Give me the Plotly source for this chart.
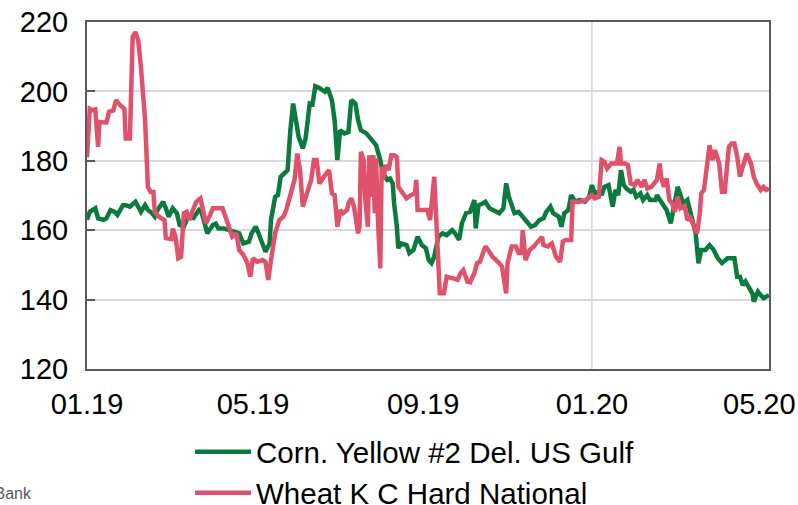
import pandas as pd
import plotly.graph_objects as go

# ---- data (days since 2019-01-01, price) ----
start = "2019-01-01"

wheat_day = [0, 2, 4, 6, 8, 9, 14, 16, 19, 21,
             24, 27, 28, 31, 33, 35, 37, 39, 42, 44,
             46, 48, 49, 52, 56, 57, 61, 62, 64, 66,
             68, 70, 72, 74, 76, 79, 82, 84, 86, 89,
             91, 98, 100, 102, 105, 108, 110, 113, 116, 118,
             120, 123, 127, 129, 131, 133, 136, 139, 142, 144,
             146, 148, 150, 152, 154, 156, 158, 162, 164, 166,
             168, 170, 173, 175, 177, 179, 181, 183, 185, 188,
             189, 191, 193, 196, 197, 198, 200, 201, 203, 204,
             205, 207, 208, 209, 210, 212, 213, 214, 216, 218,
             220, 222, 224, 225, 228, 231, 234, 237, 238, 239,
             246, 248, 251, 255, 258, 260, 264, 268, 270,
             272, 275, 277, 280, 282, 284, 288, 290, 293, 297,
             300, 303, 304, 307, 310, 312, 314, 315, 317, 320,
             323, 327, 329, 330, 333, 336, 339, 342, 344, 346,
             350, 351, 356, 361, 365, 367, 370, 372, 374, 376,
             379, 383, 385, 386, 389, 391, 393, 396, 398, 401,
             403, 405, 408, 410, 412, 414, 415, 417, 419, 421,
             423, 425, 427, 429, 432, 434, 436, 439, 441, 443,
             444, 446, 448, 450, 452, 454, 457, 459, 461, 463,
             464, 466, 468, 470, 472, 474, 477, 480, 482, 484,
             487, 489, 491, 493]
wheat_price = [181, 195, 194.6, 194.8, 184, 191.2, 191, 194.1, 194.5, 197.5,
               196, 195, 186.4, 186.4, 215.7, 217.1, 214.7, 207, 191.7, 172.5,
               171, 171, 165.3, 163.9, 162.9, 157.7, 157.4, 160.5, 158.1, 151.9,
               152.3, 164.9, 165.3, 162.9, 165.3, 168.2, 169.2, 165.8, 162, 164.4,
               166.3, 166.3, 163.9, 162.4, 158.1, 159.1, 154.3, 152.9, 150.5, 146.6,
               151.9, 150.9, 151.4, 150.9, 145.7, 151.4, 159.1, 162.9, 163.9, 165.8,
               168.7, 172.5, 174.5, 182.1, 177.3, 166.8, 169.6, 174.5, 180.2, 180.2,
               173.5, 174.9, 176.4, 177.3, 170.6, 170.1, 161, 165.8, 164.9, 165.8,
               167.7, 169.2, 166.8, 159.1, 161, 182.6, 180.2, 169.6, 161, 181.6,
               169.6, 181.6, 164.9, 180.7, 165.8, 149, 178.3, 174.5, 178.8, 177.3,
               181.6, 181.6, 181.1, 172.5, 170.6, 169.2, 170.1, 170.6, 174.5, 165.8,
               165.8, 162.9, 175.4, 141.8, 141.8, 146.6, 146.2, 145.7, 147.6,
               148.5, 145.2, 145, 147.6, 150.5, 150.9, 155.3, 154.3, 152.4, 150.9,
               149.5, 141.8, 150.5, 155.3, 155.3, 153.4, 153.4, 160, 151.4, 154.3,
               155.3, 157.2, 158, 155.7, 155.3, 156.2, 152.4, 150.9, 156.7, 157.2,
               157.2, 168.2, 168.2, 168.7, 170.1, 169.2, 169.6, 180.2, 179.7, 177.8,
               179.2, 179.2, 184, 179.2, 179.2, 178.8, 173.5, 173, 174.5, 172.5,
               174.5, 172, 172.5, 173.5, 174.5, 179.2, 175.4, 172.5, 174.9, 168.7,
               167.7, 165.3, 169.6, 166.3, 167, 162.9, 163.6, 161, 159.1, 164.9,
               170.6, 171.6, 179.2, 184.5, 180.2, 183.1, 179.2, 171.1, 171.1, 178.3,
               184, 185, 185, 181.2, 175.4, 178.3, 182.1, 179.2, 175.4, 173.5,
               171.6, 172.5, 171.6, 172]

corn_day = [0, 2, 6, 8, 12, 14, 17, 20, 22, 26,
            28, 31, 35, 37, 39, 42, 44, 47, 49, 51,
            55, 57, 59, 62, 65, 67, 70, 73, 77, 81,
            83, 87, 91, 93, 95, 99, 103, 106, 110, 113,
            117, 119, 122, 124, 127, 129, 132, 133, 136, 138,
            140, 143, 145, 147, 149, 151, 153, 156, 158, 161,
            163, 165, 168, 172, 174, 177, 179, 181, 183, 186,
            189, 191, 194, 196, 198, 202, 204, 207, 209, 212,
            214, 217, 219, 221, 222, 224, 225, 227, 231, 233,
            236, 239, 242, 245, 247, 249, 251, 254, 257, 260,
            264, 266, 269, 271, 274, 277, 280, 281, 283, 286,
            288, 291, 294, 298, 301, 303, 305, 307, 309, 312,
            315, 318, 321, 324, 327, 330, 332, 335, 337, 341,
            343, 345, 348, 350, 353, 356, 360, 363, 365, 367,
            370, 372, 374, 377, 378, 380, 382, 384, 386, 388,
            390, 393, 395, 397, 400, 402, 405, 407, 411, 412,
            415, 417, 419, 422, 424, 427, 429, 431, 434, 436,
            438, 440, 442, 444, 447, 450, 453, 456, 459, 463,
            468, 470, 472, 474, 476, 479, 481, 482, 485, 487,
            489, 493]
corn_price = [163, 165.3, 166.3, 163.4, 163, 163.4, 165.8, 165.3, 164.4, 167.2,
              167.2, 166.8, 168.2, 166.8, 165.3, 167.2, 165.8, 164.9, 163.9, 165.8,
              168.2, 166.3, 163.9, 166.3, 164.9, 161.5, 161, 163.9, 163.5, 165.8,
              165, 159.1, 161.5, 161.9, 160.5, 160.5, 160, 159.6, 159.1, 156.2,
              156.7, 159.1, 161, 159.1, 155.3, 153.8, 156.2, 162.9, 169.6, 170.1,
              175.4, 176.4, 177.3, 188.8, 196.5, 191.7, 186.9, 183.6, 186.4, 196.5,
              196.3, 201.5, 201, 199.9, 201, 197.5, 191.7, 180.2, 188.8, 187.9,
              188.3, 197.5, 196.5, 191.7, 188.8, 187.9, 186.9, 185.5, 184.5, 180.2,
              176.4, 174.5, 174.9, 173.5, 167.7, 161, 154.8, 156.2, 155.7, 153.4,
              154.3, 158.1, 155.7, 154.8, 151.4, 150.5, 152.4, 158.1, 159.1, 158.6,
              160, 159.1, 157.2, 162, 164.9, 165.3, 168.7, 160.5, 167.2, 167.7,
              168.2, 166.3, 165.8, 164.9, 166.3, 173.5, 169.6, 167.2, 164.9, 165.3,
              163.9, 162.4, 161, 161.5, 162.9, 163.4, 165.3, 166.8, 164.9, 163.9,
              161, 164.9, 165.8, 170.1, 168.2, 168.7, 168.2, 169.6, 173, 170.6,
              171.1, 170.1, 172.5, 173, 171.1, 166.8, 171.6, 170.1, 177.3, 173,
              172, 171.1, 171.6, 169.6, 170.6, 168.7, 170.1, 168.7, 168.7, 170.1,
              168.2, 167.2, 165.8, 162, 165.8, 172.5, 170.1, 167.7, 168.7, 165.8,
              162.9, 159.1, 150.5, 154.3, 154.3, 155.7, 154.3, 151.9, 150.5, 151.9,
              151.9, 146.6, 146.6, 144.2, 145.2, 143.3, 141.8, 139.4, 142.3, 141.3,
              140.4, 141.3]

tick_dates = ["2019-01-01", "2019-05-01", "2019-09-01", "2020-01-01", "2020-05-01"]
tick_labels = ["01.19", "05.19", "09.19", "01.20", "05.20"]
y_ticks = [120, 140, 160, 180, 200, 220]
series_names = ["Corn. Yellow #2 Del. US Gulf", "Wheat K C Hard National"]
source_text = "Source: World Bank"

assert len(wheat_day) == len(wheat_price)
assert len(corn_day) == len(corn_price)

t0 = pd.Timestamp(start)
wheat_x = t0 + pd.to_timedelta(wheat_day, unit="D")
corn_x = t0 + pd.to_timedelta(corn_day, unit="D")

FONT = "Liberation Sans Narrow, Arial Narrow, Liberation Sans, Arial, sans-serif"
FS = 29
GREEN = "#0B7A3E"
RED = "#E0516B"
AXIS = "#595959"

W, H = 798, 505
L, R, T, B = 87, 29, 22, 136
PW, PH = W - L - R, H - T - B


def px_x(page_x):
    return (page_x - L) / PW


def px_y(page_y):
    return (T + PH - page_y) / PH


fig = go.Figure()
fig.add_trace(go.Scatter(x=corn_x, y=corn_price, mode="lines", name=series_names[0],
                         line=dict(color=GREEN, width=4.5), legend="legend"))
fig.add_trace(go.Scatter(x=wheat_x, y=wheat_price, mode="lines", name=series_names[1],
                         line=dict(color=RED, width=4.5), legend="legend2"))

fig.add_shape(type="line", xref="x", yref="paper", x0="2020-01-01", x1="2020-01-01",
              y0=0, y1=1, line=dict(color="#BFBFBF", width=1), layer="below")

fig.add_annotation(text=source_text, xref="paper", yref="paper",
                   x=px_x(34), y=px_y(494), xanchor="right", yanchor="middle",
                   showarrow=False, font=dict(family=FONT, size=16, color="#595959"))

legend_common = dict(orientation="v", xanchor="left", yanchor="middle",
                     bgcolor="rgba(0,0,0,0)", font=dict(family=FONT, size=29.5, color="#000"),
                     itemwidth=56)

fig.update_layout(
    width=W, height=H, autosize=False,
    margin=dict(l=L, r=R, t=T, b=B, autoexpand=False),
    paper_bgcolor="white", plot_bgcolor="white",
    font=dict(family=FONT, size=FS, color="#000"),
    showlegend=True,
    legend=dict(x=px_x(190), y=px_y(452), **legend_common),
    legend2=dict(x=px_x(190), y=px_y(493), **legend_common),
    xaxis=dict(type="date", range=["2019-01-01", "2020-05-08"],
               tickvals=tick_dates, ticktext=tick_labels,
               showgrid=False, zeroline=False,
               showline=True, linecolor=AXIS, linewidth=2, mirror=True,
               ticks="", ticklabelstandoff=8, ticklabeloverflow="allow",
               tickfont=dict(family=FONT, size=FS, color="#000")),
    yaxis=dict(range=[120, 220], tickvals=y_ticks,
               showgrid=True, gridcolor="#D9D9D9", gridwidth=1.5, zeroline=False,
               showline=True, linecolor=AXIS, linewidth=2, mirror=True,
               ticks="inside", ticklen=8, tickwidth=2, tickcolor=AXIS,
               ticklabelstandoff=11, ticklabeloverflow="allow",
               tickfont=dict(family=FONT, size=FS, color="#000")),
)

# remove the default page margin so the 798x505 figure fills the window exactly
fig.write_html("out.html",
               config={"displayModeBar": False},
               post_script="document.body.style.margin='0';document.body.style.overflow='hidden';")
